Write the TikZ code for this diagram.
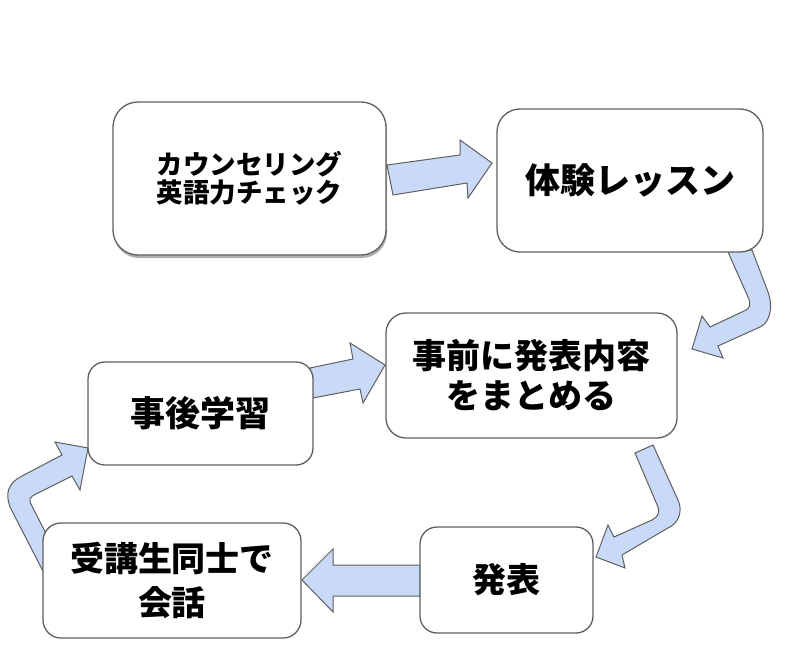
\documentclass[tikz,border=0pt]{standalone}
\usepackage{fontspec}
\setmainfont{Noto Sans CJK JP}
\usetikzlibrary{shadows}
\definecolor{arrowfill}{HTML}{C9DAF8}
\definecolor{edgegray}{HTML}{5F5F5F}
\begin{document}
\begin{tikzpicture}[x=1pt,y=-1pt,
  box/.style={draw=edgegray, line width=1.3pt, fill=white, align=center, inner sep=0pt, text=black},
  barrow/.style={draw=edgegray, line width=1pt, fill=arrowfill, line join=miter},
  tsmall/.style={font=\fontsize{26.5}{28}\selectfont\bfseries},
  tbig/.style={font=\fontsize{35}{40}\selectfont\bfseries}]
\useasboundingbox (0,0) rectangle (785,664);
% block arrows (drawn below the boxes)
\draw[barrow] (387,165) -- (460,155) -- (460,140) -- (492,163) -- (468,198) -- (467,183) -- (393,195) -- cycle;
\draw[barrow] (728,252) -- (748,297) .. controls (751,304) and (751,308) .. (744,311) -- (710,327) -- (702,316) -- (692,349) -- (723,358) -- (718,346) -- (760,327) .. controls (771,322) and (773,305) .. (768,292) -- (752,250) -- cycle;
\draw[barrow] (635,453) -- (658,507) .. controls (660,512) and (658,517) .. (652,520) -- (614,537) -- (608,525) -- (596,557) -- (625,568) -- (622,555) -- (668,528) .. controls (679,523) and (683,511) .. (678,500) -- (653,445) -- cycle;
\draw[barrow] (310,368) -- (353,359) -- (350,343) -- (385,365) -- (363,403) -- (360,389) -- (313,398) -- cycle;
\draw[barrow] (420,565) -- (333,565) -- (333,549) -- (302,580) -- (333,612) -- (333,596) -- (420,596) -- cycle;
\draw[barrow] (62,565) -- (32,506) .. controls (28,499) and (30,497) .. (36,494) -- (72,476) -- (80,490) -- (88,448) -- (55,442) -- (62,455) -- (22,476) .. controls (8,483) and (5,493) .. (10,507) -- (45,575) -- cycle;
% boxes
\node[box, rounded corners=25pt, minimum width=273pt, minimum height=153pt, tsmall,
  drop shadow={shadow xshift=1pt, shadow yshift=-3pt, opacity=0.45, fill=black!70}]
  (counsel) at (249.5,178.5) {カウンセリング\\英語力チェック};
\node[box, rounded corners=23pt, minimum width=266pt, minimum height=143pt, tbig] (trial) at (630,180.5) {体験レッスン};
\node[box, rounded corners=20pt, minimum width=291pt, minimum height=125pt,
  font=\fontsize{34}{40}\selectfont\bfseries] (prep) at (531.5,375.5) {事前に発表内容\\をまとめる};
\node[box, rounded corners=17pt, minimum width=225pt, minimum height=103pt, tbig] (review) at (200.5,413.5) {事後学習};
\node[box, rounded corners=18pt, minimum width=258pt, minimum height=115pt,
  font=\fontsize{34}{44}\selectfont\bfseries] (talk) at (172,580.5) {受講生同士で\\会話};
\node[box, rounded corners=17pt, minimum width=173pt, minimum height=106pt,
  font=\fontsize{34}{40}\selectfont\bfseries] (present) at (506.5,580) {発表};
\end{tikzpicture}
\end{document}
